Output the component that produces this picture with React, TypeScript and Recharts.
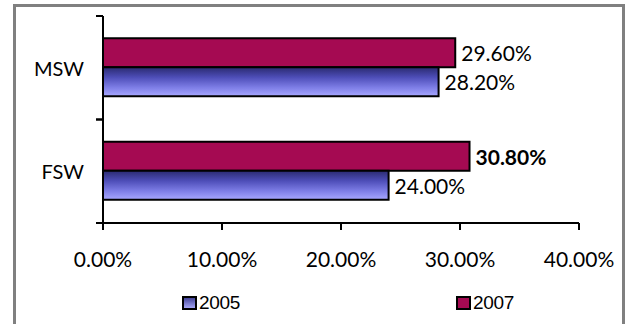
import { BarChart, Bar, XAxis, YAxis, Legend, LabelList } from "recharts";

const categories = ["MSW", "FSW"];
const values2005 = [28.2, 24.0];
const values2007 = [29.6, 30.8];
const xTicks = [0, 10, 20, 30, 40];
const seriesNames = ["2005", "2007"];

const data = categories.map((name, i) => ({
  name,
  y2005: values2005[i],
  y2007: values2007[i],
}));

const W = 630;
const H = 324;
const MARGIN = { top: 16, right: 51, left: 0, bottom: 6 };
const LEGEND_H = 30;
const XAXIS_H = 65;
// height of one category band, used for the Excel-style ticks between bands
const BAND = (H - MARGIN.top - MARGIN.bottom - LEGEND_H - XAXIS_H) / categories.length;

const MAROON = "#a50a52";
const FONT = "Lato, 'Open Sans', sans-serif";

const CategoryTick = (props: any) => {
  const { x, y, payload } = props;
  const axisX = x + 19;
  return (
    <g>
      <text x={x} y={y} textAnchor="end" dominantBaseline="central" fontFamily={FONT} fontSize={20} fill="#000">
        {payload.value}
      </text>
      <line x1={axisX - 7} x2={axisX} y1={y - BAND / 2} y2={y - BAND / 2} stroke="#000" strokeWidth={2} />
      <line x1={axisX - 7} x2={axisX} y1={y + BAND / 2} y2={y + BAND / 2} stroke="#000" strokeWidth={2} />
    </g>
  );
};

const makeLabel = (boldIndex: number | null) => (props: any) => {
  const { x, y, width, height, value, index } = props;
  return (
    <text
      x={x + width + 6}
      y={y + height / 2}
      dominantBaseline="central"
      fontFamily={FONT}
      fontSize={21}
      fontWeight={index === boldIndex ? 700 : 400}
      fill="#000"
    >
      {`${Number(value).toFixed(2)}%`}
    </text>
  );
};

const LegendBox = () => (
  <div style={{ position: "relative", width: W, height: LEGEND_H, fontFamily: "'Liberation Sans', Arial, sans-serif", fontSize: 19 }}>
    {seriesNames.map((name, i) => (
      <div
        key={name}
        style={{ position: "absolute", left: i === 0 ? 182 : 456, top: 5, display: "flex", alignItems: "center", height: 20 }}
      >
        <svg width={15} height={14} style={{ marginRight: 2 }}>
          <rect x={1} y={1} width={13} height={12} fill={i === 0 ? "url(#legendBlue)" : MAROON} stroke="#000" strokeWidth={2} />
        </svg>
        <span style={{ color: "#000", letterSpacing: -0.3 }}>{name}</span>
      </div>
    ))}
  </div>
);

export default function App() {
  return (
    <div style={{ position: "absolute", left: 0, top: 0, width: W, height: H, background: "#fff", overflow: "hidden" }}>
      <svg width={0} height={0} style={{ position: "absolute" }}>
        <defs>
          <linearGradient id="legendBlue" x1="0" y1="0" x2="0" y2="1">
            <stop offset="0%" stopColor="#3a3a90" />
            <stop offset="100%" stopColor="#b0b0ff" />
          </linearGradient>
        </defs>
      </svg>
      <div
        style={{
          position: "absolute",
          left: 13,
          top: 4,
          width: 612,
          height: 340,
          border: "3px solid #808080",
          boxSizing: "border-box",
        }}
      />
      <div style={{ position: "absolute", left: 0, top: 0 }}>
        <BarChart
          width={W}
          height={H}
          data={data}
          layout="vertical"
          margin={MARGIN}
          barGap={0}
          barCategoryGap="21.5%"
        >
          <defs>
            <linearGradient id="blueGrad" x1="0" y1="0" x2="0" y2="1">
              <stop offset="0%" stopColor="#2a2a70" />
              <stop offset="35%" stopColor="#4e4eb8" />
              <stop offset="70%" stopColor="#7e7ee6" />
              <stop offset="100%" stopColor="#a8a8ff" />
            </linearGradient>
          </defs>
          <XAxis
            type="number"
            domain={[0, 40]}
            ticks={xTicks}
            interval={0}
            height={XAXIS_H}
            tickFormatter={(v: number) => `${v.toFixed(2)}%`}
            tick={{ fontFamily: FONT, fontSize: 21, fill: "#000" }}
            tickSize={7}
            tickMargin={22}
            axisLine={{ stroke: "#000", strokeWidth: 2 }}
            tickLine={{ stroke: "#000", strokeWidth: 2 }}
          />
          <YAxis
            type="category"
            dataKey="name"
            width={103}
            tickSize={0}
            tickMargin={19}
            tickLine={false}
            axisLine={{ stroke: "#000", strokeWidth: 2 }}
            tick={<CategoryTick />}
          />
          <Legend verticalAlign="bottom" height={LEGEND_H} wrapperStyle={{ left: 0, width: W }} content={<LegendBox />} />
          <Bar dataKey="y2007" name="2007" fill={MAROON} stroke="#000" strokeWidth={2} isAnimationActive={false}>
            <LabelList dataKey="y2007" content={makeLabel(1)} />
          </Bar>
          <Bar dataKey="y2005" name="2005" fill="url(#blueGrad)" stroke="#000" strokeWidth={2} isAnimationActive={false}>
            <LabelList dataKey="y2005" content={makeLabel(null)} />
          </Bar>
        </BarChart>
      </div>
    </div>
  );
}
